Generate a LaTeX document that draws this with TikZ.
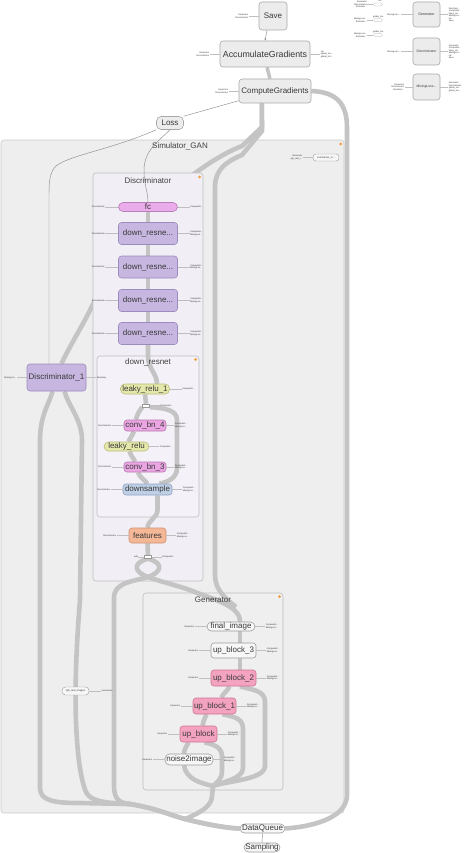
\documentclass[tikz,border=0pt]{standalone}
\usepackage{fontspec}
\setmainfont{Liberation Sans}
\usetikzlibrary{arrows.meta}
\pgfdeclarelayer{bgzero}
\pgfdeclarelayer{bgone}
\pgfdeclarelayer{grps}
\pgfdeclarelayer{edges}
\pgfsetlayers{bgzero,bgone,grps,edges,main}
\definecolor{edgec}{HTML}{C4C4C4}
\definecolor{simfill}{HTML}{EEEEEE}
\definecolor{simline}{HTML}{C9C9C9}
\definecolor{discfill}{HTML}{F1EFF5}
\definecolor{drnfill}{HTML}{F4F2F8}
\definecolor{genfill}{HTML}{EFEFEF}
\definecolor{grpline}{HTML}{BDBDBD}
\definecolor{opfill}{HTML}{ECECEC}
\definecolor{opline}{HTML}{A8A8A8}
\definecolor{fcfill}{HTML}{EAACEA}
\definecolor{fcline}{HTML}{B77FB7}
\definecolor{drfill}{HTML}{C6B6E0}
\definecolor{drline}{HTML}{9C8BBE}
\definecolor{lrfill}{HTML}{E5E8AA}
\definecolor{lrline}{HTML}{B7BB78}
\definecolor{cbfill}{HTML}{EBA5E3}
\definecolor{cbline}{HTML}{BA78B2}
\definecolor{dsfill}{HTML}{BFCFE6}
\definecolor{dsline}{HTML}{8FA3C2}
\definecolor{ftfill}{HTML}{F4B897}
\definecolor{ftline}{HTML}{CE9070}
\definecolor{ubfill}{HTML}{F3A3BF}
\definecolor{ubline}{HTML}{CF7593}
\definecolor{wfill}{HTML}{F7F7F7}
\definecolor{wline}{HTML}{9A9A9A}
\definecolor{dotc}{HTML}{F39C3C}
\newcommand\portL[3][12]{\draw[portln] (#2.west) -- ++(-#1,0) node[porttx,align=right,anchor=east] (#2L) {#3};}
\newcommand\portR[3][12]{\draw[portln] (#2.east) -- ++(#1,0) node[porttx,align=left,anchor=west] (#2R) {#3};}
\begin{document}
\begin{tikzpicture}[x=1pt,y=-1pt,
  every node/.style={inner sep=0pt, text=black!78},
  grp/.style={draw=grpline, line width=0.6pt, rounded corners=3pt, inner sep=0pt},
  op/.style={draw=opline, fill=opfill, line width=0.6pt, rounded corners=3pt, font=\fontsize{8}{9}\selectfont},
  meta/.style={draw=#1line, fill=#1fill, line width=0.6pt, rounded corners=3pt, font=\fontsize{8}{9}\selectfont},
  pill/.style={rounded corners=4.5pt},
  edge/.style={draw=edgec, line width=4.6pt, line join=round},
  thin/.style={draw=black!45, line width=0.45pt},
  portln/.style={draw=black!25, line width=0.35pt},
  porttx/.style={font=\fontsize{2.2}{2.5}\selectfont, inner sep=0.3pt, text=black!80},
  ttl/.style={font=\fontsize{8}{9}\selectfont, text=black!75},
  dotn/.style={circle, fill=dotc, minimum size=3pt},
  jn/.style={draw=black!40, fill=white, line width=0.3pt, minimum width=7pt, minimum height=3pt}
]
\useasboundingbox (0,0) rectangle (465,853);

% ---------- groups ----------
\begin{pgfonlayer}{bgzero}
\node[grp, draw=simline, fill=simfill, minimum width=343pt, minimum height=673pt] (sim) at (172.5,476.5) {};
\end{pgfonlayer}
\begin{pgfonlayer}{grps}
\node[grp, fill=discfill, minimum width=110pt, minimum height=408pt] (disc) at (148,377) {};
\node[grp, fill=drnfill, minimum width=102pt, minimum height=161pt] (drn) at (148,436.5) {};
\node[grp, fill=genfill, minimum width=140pt, minimum height=197pt] (gen) at (213,691.5) {};
\end{pgfonlayer}
\node[ttl] (simt) at (180,146) {Simulator\_GAN};
\node[ttl] (disct) at (148,180.5) {Discriminator};
\node[ttl] (drnt) at (148,362.5) {down\_resnet};
\node[ttl] (gent) at (213,599.5) {Generator};
\node[dotn] (simdot) at (340.5,144) {};
\node[dotn] (discdot) at (199.5,177) {};
\node[dotn] (drndot) at (195.5,359.5) {};
\node[dotn] (gendot) at (279.5,596.5) {};

% ---------- top ops ----------
\node[op, minimum width=28pt, minimum height=28pt] (save) at (273,16) {Save};
\node[op, minimum width=90pt, minimum height=26pt, font=\fontsize{8.8}{10}\selectfont] (acc) at (265,54) {AccumulateGradients};
\node[op, minimum width=72pt, minimum height=24pt] (cg) at (275,91) {ComputeGradients};
\node[op, pill, minimum width=27pt, minimum height=13pt] (loss) at (170,123) {Loss};
\portL[10]{save}{Generator\\Discriminator}
\portL[10]{acc}{Generator\\Discriminator}
\portR[10]{acc}{init\\global\_ste...\\global\_ste...}
\portL[10]{cg}{Generator\\Discriminator}

% ---------- legend (top right) ----------
\node[op, minimum width=27pt, minimum height=25pt, font=\fontsize{3.6}{4}\selectfont] (lgG) at (426.5,14.5) {Generator};
\node[op, minimum width=27pt, minimum height=27pt, font=\fontsize{3.4}{4}\selectfont] (lgD) at (426.5,51.5) {Discriminator};
\node[op, minimum width=27pt, minimum height=26pt, font=\fontsize{3.4}{4}\selectfont] (lgM) at (426.5,87) {MixingLoss...};
\portL[12]{lgG}{MixingLoss...}
\portR[8]{lgG}{Discrimin...\\ComputeG...\\leaky\_rel...\\MixingLos...\\init\\Save}
\portL[12]{lgD}{MixingLoss...}
\portR[8]{lgD}{Generator\\ComputeG...\\leaky\_rel...\\MixingLos...\\init\\Save}
\portL[8]{lgM}{Generator\\Discriminator\\Simulator...}
\portR[8]{lgM}{Generator\\Discriminator\\global\_ste...\\global\_ste...}
\node[draw=black!35, fill=white, line width=0.3pt, rounded corners=1.5pt, minimum width=9pt, minimum height=3pt] (ini) at (378,4.5) {};
\node[porttx] (init) at (380,1) {init};
\portL[6]{ini}{Generator\\Discriminator\\Simulator...}
\node[draw=black!35, fill=white, line width=0.3pt, rounded corners=1.5pt, minimum width=9pt, minimum height=3pt] (gs1) at (378,20) {};
\node[porttx] (gs1t) at (379,17) {global\_ste...};
\portL[6]{gs1}{MixingLoss...\\Simulator...}
\node[draw=black!35, fill=white, line width=0.3pt, rounded corners=1.5pt, minimum width=9pt, minimum height=3pt] (gs2) at (378,35) {};
\node[porttx] (gs2t) at (379,32) {global\_ste...};
\portL[6]{gs2}{MixingLoss...\\Simulator...}

% ---------- Discriminator_1 and summaries ----------
\node[meta=dr, minimum width=59pt, minimum height=27pt] (d1) at (56.5,377.5) {Discriminator\_1};
\portL[10]{d1}{MixingLos...}
\portR[10]{d1}{Sampling}
\node[draw=wline, fill=wfill, line width=0.4pt, rounded corners=3pt, minimum width=26pt, minimum height=7pt, font=\fontsize{2.5}{3}\selectfont] (sm) at (326,157.5) {summaries\_in...};
\portL[10]{sm}{Generator\\rgb\_real\_i...}
\node[draw=wline, fill=wfill, line width=0.4pt, rounded corners=3.5pt, minimum width=27pt, minimum height=8pt, font=\fontsize{2.6}{3}\selectfont] (rg) at (75.5,691) {rgb\_real\_images};
\portR[12]{rg}{summaries}

% ---------- Discriminator nodes ----------
\node[meta=fc, rounded corners=4.5pt, minimum width=59pt, minimum height=9pt] (fc) at (148,207) {fc};
\node[meta=dr, minimum width=59pt, minimum height=22pt] (dr1) at (148,233.5) {down\_resne...};
\node[meta=dr, minimum width=59pt, minimum height=22pt] (dr2) at (148,267) {down\_resne...};
\node[meta=dr, minimum width=59pt, minimum height=22pt] (dr3) at (148,300.5) {down\_resne...};
\node[meta=dr, minimum width=59pt, minimum height=22pt] (dr4) at (148,333.5) {down\_resne...};
\portL[13]{fc}{Discriminator}
\portR[12]{fc}{ComputeG...}
\foreach \n in {dr1,dr2,dr3,dr4}{\portL[13]{\n}{Discriminator}\portR[12]{\n}{ComputeG...\\MixingLos...}}
\node[meta=lr, rounded corners=4.5pt, minimum width=49pt, minimum height=10pt] (lr1) at (145,389) {leaky\_relu\_1};
\node[jn] (j1) at (146,405.5) {};
\node[meta=cb, minimum width=42pt, minimum height=11pt] (cb4) at (145,425.5) {conv\_bn\_4};
\node[meta=lr, rounded corners=4.5pt, minimum width=45pt, minimum height=9pt] (lr) at (126.5,446.5) {leaky\_relu};
\node[meta=cb, minimum width=42pt, minimum height=10pt] (cb3) at (145,467) {conv\_bn\_3};
\node[meta=ds, minimum width=49pt, minimum height=11pt] (ds) at (147.5,489.5) {downsample};
\node[meta=ft, minimum width=37pt, minimum height=15pt] (ft) at (147.5,535.5) {features};
\node[jn] (j2) at (148,557) {};
\portR[12]{lr1}{ComputeG...}
\portR[10]{j1}{ComputeG...}
\portL[12]{cb4}{Discriminator}
\portR[8]{cb4}{ComputeG...\\MixingLos...}
\portR[10]{lr}{ComputeG...}
\portL[12]{cb3}{Discriminator}
\portR[8]{cb3}{ComputeG...\\MixingLos...}
\portL[12]{ds}{Discriminator}
\portR[10]{ds}{ComputeG...\\MixingLos...}
\portL[12]{ft}{Discriminator}
\portR[10]{ft}{ComputeG...\\MixingLos...}
\portL[6]{j2}{add}
\portR[10]{j2}{ComputeG...}

% ---------- Generator nodes ----------
\node[draw=wline, fill=wfill, line width=0.6pt, rounded corners=4.5pt, minimum width=48pt, minimum height=9pt, font=\fontsize{8}{9}\selectfont] (fi) at (231,626.5) {final\_image};
\node[draw=wline, fill=wfill, line width=0.6pt, rounded corners=3pt, minimum width=45pt, minimum height=15pt, font=\fontsize{8}{9}\selectfont] (ub3) at (233.5,650.5) {up\_block\_3};
\node[meta=ub, minimum width=45pt, minimum height=16pt] (ub2) at (233.5,678) {up\_block\_2};
\node[meta=ub, minimum width=43pt, minimum height=16pt] (ub1) at (214.5,706) {up\_block\_1};
\node[meta=ub, minimum width=37pt, minimum height=16pt] (ub) at (198.5,734) {up\_block};
\node[draw=wline, fill=wfill, line width=0.6pt, rounded corners=4.5pt, minimum width=48pt, minimum height=11pt, font=\fontsize{8}{9}\selectfont] (nz) at (189,759.5) {noise2image};
\foreach \n in {fi,ub3,ub2,ub1,ub,nz}{\portL[12]{\n}{Generator}\portR[10]{\n}{ComputeG...\\MixingLos...}}

% ---------- bottom ----------
\node[draw=wline, fill=wfill, line width=0.6pt, rounded corners=4.5pt, minimum width=45pt, minimum height=9pt, font=\fontsize{8}{9}\selectfont] (dq) at (262.5,828.5) {DataQueue};
\node[draw=wline, fill=wfill, line width=0.6pt, rounded corners=4.5pt, minimum width=36pt, minimum height=9pt, font=\fontsize{8}{9}\selectfont] (smp) at (262,847.5) {Sampling};

% ---------- edges hidden under the Discriminator group ----------
\begin{pgfonlayer}{bgone}
\draw[edge] (cg.223) -- (262,127) -- (242,146) .. controls (200,162) and (120,225) .. (95,300) .. controls (85,322) and (70,345) .. ([xshift=5pt]d1.north);
\end{pgfonlayer}

% ---------- edges ----------
\begin{pgfonlayer}{edges}
% right long edge
\draw[edge] (cg.east) .. controls (338,92) and (347,105) .. (347,128) -- (347,795) .. controls (347,815) and (320,826) .. (dq.east);
% vertical to the right of Discriminator
\draw[edge] (cg.223) -- (262,131) -- (242,155) .. controls (225,162) and (216,170) .. (215,185) -- (215,575) .. controls (215,590) and (225,598) .. (236,607);
\draw[edge, line width=3.5pt] ([xshift=2pt]acc.south) -- ([xshift=-5pt]cg.north);
% Discriminator chain
\draw[edge] (fc.south) -- (dr1.north);
\draw[edge] (dr1.south) -- (dr2.north);
\draw[edge] (dr2.south) -- (dr3.north);
\draw[edge] (dr3.south) -- (dr4.north);
\draw[edge] (dr4.south) -- (148,357) .. controls (148,368) and (157,374) .. ([xshift=12pt]lr1.north);
\draw[edge] (lr1.south) -- (j1.north);
\draw[edge] (j1.south west) .. controls (140,410) and (137,414) .. ([xshift=-9pt]cb4.north);
\draw[edge] ([xshift=-11pt]cb4.south) .. controls (132,436) and (130,438) .. ([xshift=2pt]lr.north);
\draw[edge] ([xshift=3pt]lr.south) .. controls (131,456) and (134,459) .. ([xshift=-10pt]cb3.north);
\draw[edge] ([xshift=-7pt]cb3.south) .. controls (140,478) and (145,480) .. (ds.north);
\draw[edge] (j1.south east) .. controls (165,408) and (177,410) .. (177,420) -- (177,468) .. controls (177,478) and (168,482) .. ([xshift=12pt]ds.north);
\draw[edge] ([xshift=10pt]ds.south) -- (157.5,510) .. controls (157.5,518) and (148,520) .. (ft.north);
\draw[edge] (ft.south) -- (j2.north);
% X crossing below features
\draw[edge] (j2.south) .. controls (132,563) and (134,572) .. (148,577) .. controls (165,583) and (180,586) .. (195,592) .. controls (215,600) and (240,606) .. ([xshift=9pt]fi.north);
\draw[edge] (j2.south) .. controls (164,563) and (162,572) .. (148,577) .. controls (130,582) and (114,583) .. (114,598) -- (114,786) .. controls (114,800) and (120,803) .. (130,804) .. controls (155,808) and (170,815) .. (185,819) .. controls (205,824) and (225,828) .. (dq.west);
% left long edges
\draw[edge] ([xshift=-4pt]d1.south) .. controls (50,402) and (40,415) .. (40,440) -- (40,788) .. controls (40,801) and (55,803) .. (80,803) -- (130,804) .. controls (155,808) and (170,815) .. (185,819) .. controls (205,824) and (225,828) .. (dq.west);
\draw[edge] ([xshift=8pt]d1.south) .. controls (68,405) and (82,420) .. (82,440) -- (80,600) .. controls (76,650) and (74,700) .. (77,740) .. controls (79,770) and (83,785) .. (86,792) .. controls (90,800) and (100,803) .. (130,804);
% Generator internals
\draw[edge] ([xshift=9pt]fi.south) -- ([xshift=6.5pt]ub3.north);
\draw[edge] ([xshift=6.5pt]ub3.south) -- ([xshift=6.5pt]ub2.north);
\coordinate (gx) at (213,786);
\draw[edge] ([xshift=-4pt]ub2.south) .. controls (227,692) and (223,693) .. ([xshift=7pt]ub1.north);
\draw[edge] ([xshift=6.5pt]ub2.south) .. controls (252,690) and (265,690) .. (265,702) -- (265,766) .. controls (265,780) and (225,781) .. (gx);
\draw[edge] ([xshift=-8pt]ub1.south) .. controls (204,720) and (203,722) .. ([xshift=4pt]ub.north);
\draw[edge] ([xshift=8pt]ub1.south) .. controls (236,717) and (243,719) .. (243,729) -- (243,768) .. controls (243,779) and (222,782) .. (gx);
\draw[edge] ([xshift=-10pt]ub.south) .. controls (186,747) and (184,750) .. ([xshift=-5pt]nz.north);
\draw[edge] ([xshift=6pt]ub.south) .. controls (216,745) and (222,748) .. (222,757) -- (222,771) .. controls (222,780) and (216,783) .. (gx);
\draw[edge] ([xshift=-5pt]nz.south) .. controls (186,779) and (200,783) .. (gx);
\draw[edge] (gx) -- (212,796) .. controls (212,806) and (200,813) .. (185,819);
% thin edges
\draw[thin, -{Stealth[length=2.5pt,width=2pt]}] ([xshift=-6pt]save.south) -- (acc.north);
\draw[thin] (cg.195) -- (loss.north east);
\draw[thin] (loss.south) .. controls (160,140) and (144,150) .. (144,170) .. controls (144,185) and (148,192) .. (fc.north);
\draw[thin] (loss.south west) .. controls (110,150) and (70,155) .. (56,166) .. controls (50,172) and (49,180) .. (49,195) -- ([xshift=-7.5pt]d1.north);
\draw[thin] (dq.south) -- (smp.north);
\end{pgfonlayer}
\end{tikzpicture}
\end{document}
